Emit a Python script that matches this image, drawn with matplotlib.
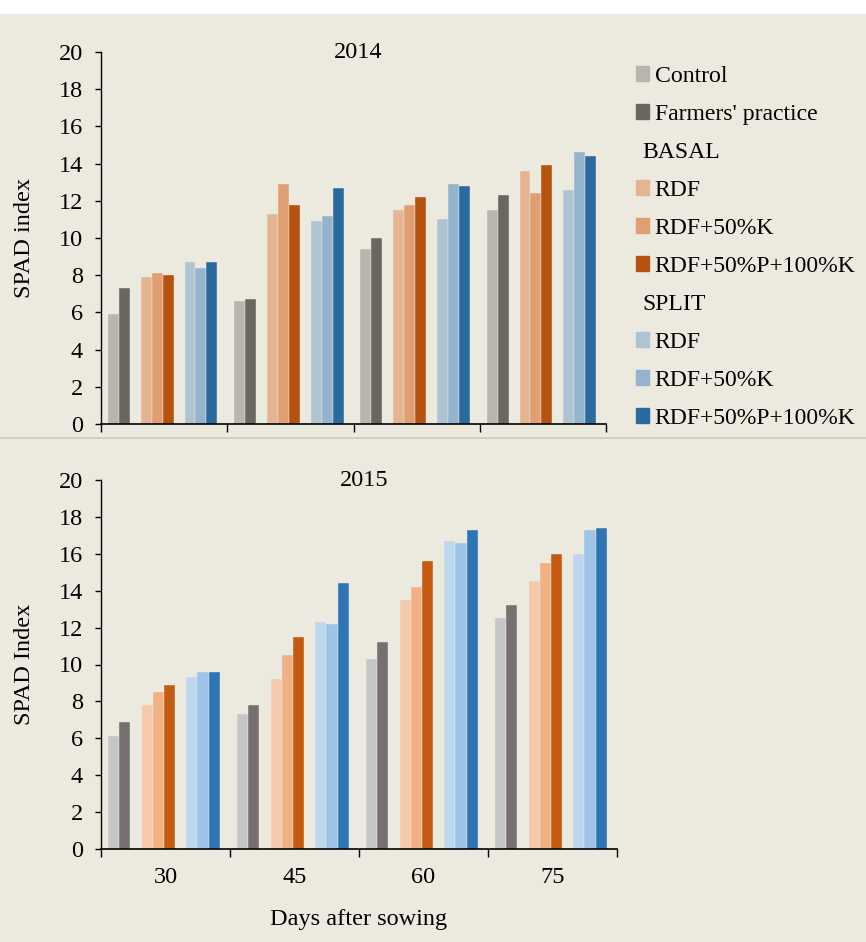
import matplotlib
matplotlib.use("Agg")
import matplotlib.pyplot as plt
import matplotlib.transforms as mtransforms
from matplotlib.patches import Patch, Rectangle
from matplotlib.lines import Line2D

plt.rcParams['font.family'] = ['Liberation Serif', 'DejaVu Serif']

days = ["30", "45", "60", "75"]
series = ["Control", "Farmers' practice",
          "RDF", "RDF+50%K", "RDF+50%P+100%K",
          "RDF", "RDF+50%K", "RDF+50%P+100%K"]

# 2014 values, one list per treatment (30, 45, 60, 75 DAS)
control_2014 = [5.9, 6.6, 9.4, 11.5]
farmers_2014 = [7.3, 6.7, 10.0, 12.3]
basal_rdf_2014 = [7.9, 11.3, 11.5, 13.6]
basal_k_2014 = [8.1, 12.9, 11.8, 12.4]
basal_pk_2014 = [8.0, 11.8, 12.2, 13.9]
split_rdf_2014 = [8.7, 10.9, 11.0, 12.6]
split_k_2014 = [8.4, 11.2, 12.9, 14.6]
split_pk_2014 = [8.7, 12.7, 12.8, 14.4]

# 2015 values
control_2015 = [6.1, 7.3, 10.3, 12.5]
farmers_2015 = [6.9, 7.8, 11.2, 13.2]
basal_rdf_2015 = [7.8, 9.2, 13.5, 14.5]
basal_k_2015 = [8.5, 10.5, 14.2, 15.5]
basal_pk_2015 = [8.9, 11.5, 15.6, 16.0]
split_rdf_2015 = [9.3, 12.3, 16.7, 16.0]
split_k_2015 = [9.6, 12.2, 16.6, 17.3]
split_pk_2015 = [9.6, 14.4, 17.3, 17.4]

colors_2014 = ["#B6B5AE", "#6B6660", "#E5B592", "#E09F72", "#B5520F",
               "#AEC4D2", "#94B3CC", "#2B6A9E"]
colors_2015 = ["#C6C6C8", "#767170", "#F6C9AA", "#F2B085", "#C55A11",
               "#BDD7EE", "#9DC3E6", "#2E75B6"]

data_2014 = [control_2014, farmers_2014, basal_rdf_2014, basal_k_2014, basal_pk_2014,
             split_rdf_2014, split_k_2014, split_pk_2014]
data_2015 = [control_2015, farmers_2015, basal_rdf_2015, basal_k_2015, basal_pk_2015,
             split_rdf_2015, split_k_2015, split_pk_2015]

# slot of each series inside a group (slots 2 and 6 left empty)
slots = [0, 1, 3, 4, 5, 7, 8, 9]
bw = 11 / 127
margin = 7 / 127

bg = "#ECE9DF"
fig = plt.figure(figsize=(8.66, 9.42), dpi=100, facecolor=bg)
fig.patches.append(Rectangle((0, 1 - 14 / 942), 1, 14 / 942, transform=fig.transFigure,
                             facecolor="white", edgecolor="none", zorder=0))
fig.add_artist(Line2D([0, 1], [1 - 438 / 942, 1 - 438 / 942], transform=fig.transFigure,
                      color="#D3C9AC", lw=1.2))

ax1 = fig.add_axes([101 / 866, 1 - 424 / 942, 505 / 866, 372 / 942])
ax2 = fig.add_axes([101 / 866, 1 - 849 / 942, 516 / 866, 369 / 942])

fs = 17.5


def draw(ax, data, colors, title, ylabel):
    ax.set_facecolor(bg)
    for j, vals in enumerate(data):
        xs = [i + margin + slots[j] * bw for i in range(len(days))]
        ax.bar(xs, vals, width=bw, align='edge', color=colors[j], label=series[j],
               edgecolor=bg, linewidth=0.3)
    ax.set_xlim(0, 4)
    ax.set_ylim(0, 20)
    ax.set_yticks(range(0, 21, 2))
    ax.set_xticks(range(0, 5))
    ax.set_xticklabels([])
    for s in ["top", "right"]:
        ax.spines[s].set_visible(False)
    ax.spines["left"].set_linewidth(1.0)
    ax.spines["bottom"].set_linewidth(1.2)
    ax.tick_params(axis='y', direction='out', length=4, width=1.0, pad=9, labelsize=fs)
    ax.tick_params(axis='x', which='major', direction='out', length=6, width=1.0)
    ax.text(0.51, 1.0, title, transform=ax.transAxes, ha='center', va='center', fontsize=fs)
    ax.set_ylabel(ylabel, fontsize=fs, labelpad=17)


draw(ax1, data_2014, colors_2014, "2014", "SPAD index")
draw(ax2, data_2015, colors_2015, "2015", "SPAD Index")

ax2.set_xticks([i + 0.5 for i in range(len(days))], minor=True)
ax2.set_xticklabels(days, minor=True, fontsize=fs)
ax2.tick_params(axis='x', which='minor', length=0, pad=13)
ax2.set_xlabel("Days after sowing", fontsize=fs, labelpad=15)

# legend for top panel with group headers
blank = Patch(facecolor="none", edgecolor="none")
handles = [Patch(color=colors_2014[0]), Patch(color=colors_2014[1]), blank,
           Patch(color=colors_2014[2]), Patch(color=colors_2014[3]), Patch(color=colors_2014[4]),
           blank,
           Patch(color=colors_2014[5]), Patch(color=colors_2014[6]), Patch(color=colors_2014[7])]
labels = ["Control", "Farmers' practice", "BASAL", "RDF", "RDF+50%K", "RDF+50%P+100%K",
          "SPLIT", "RDF", "RDF+50%K", "RDF+50%P+100%K"]
lfs = 17.1
leg = fig.legend(handles, labels, loc='upper left', bbox_to_anchor=(636 / 866, 1 - 66 / 942),
                 frameon=False, fontsize=lfs, handlelength=0.55, handleheight=0.55,
                 handletextpad=0.23, labelspacing=0.715, borderpad=0, borderaxespad=0)
# group headers sit a little to the left of the entry labels
for t in leg.get_texts():
    if t.get_text() in ("BASAL", "SPLIT"):
        t.set_transform(t.get_transform() + mtransforms.Affine2D().translate(-12, 0))

fig.savefig("out.png", dpi=100, facecolor=bg)
